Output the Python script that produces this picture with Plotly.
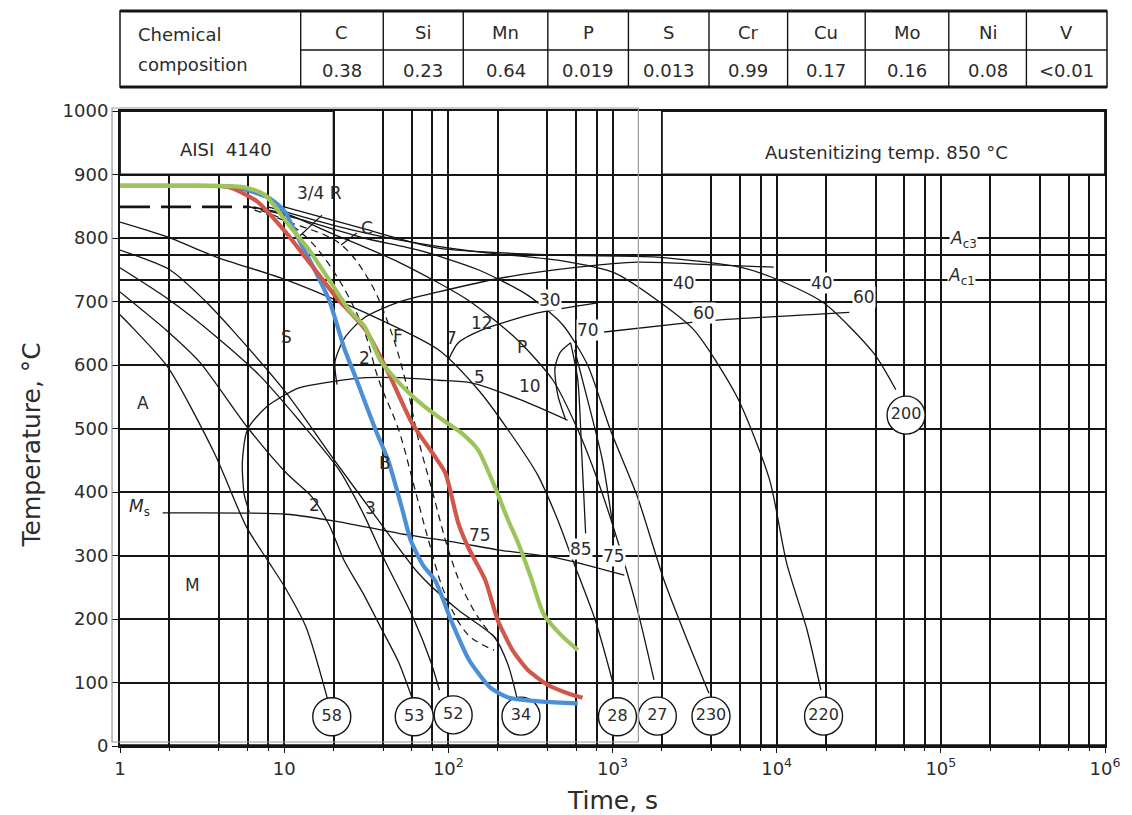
import numpy as np
import plotly.graph_objects as go

# ---------------- table data ----------------
elements = ["C", "Si", "Mn", "P", "S", "Cr", "Cu", "Mo", "Ni", "V"]
contents = ["0.38", "0.23", "0.64", "0.019", "0.013", "0.99", "0.17", "0.16", "0.08", "<0.01"]

# ---------------- axes ----------------
y_ticks = list(range(0, 1001, 100))
x_decades = [1, 10, 100, 1000, 10000, 100000, 1000000]
x_decade_text = ["1", "10", "10<sup>2</sup>", "10<sup>3</sup>", "10<sup>4</sup>", "10<sup>5</sup>", "10<sup>6</sup>"]
x_grid_mult = [2, 4, 6, 8]
crit_temps = [734, 773]          # Ac1, Ac3

# ---------------- coloured cooling curves ----------------
blue_t = [0.89, 2, 4, 5.3, 8.1, 10, 12.3, 15.2, 18.8, 23.4, 27.2, 36, 43, 52, 59, 70, 83, 105, 134, 182, 234, 376, 615]
blue_T = [882, 882, 882, 879, 863, 843, 797, 752, 702, 624, 581, 498, 450, 376, 324, 285, 261, 195, 135, 91, 76, 70, 67]
red_t = [0.89, 2, 4.6, 6.8, 10.3, 13.6, 16.3, 20.7, 31.4, 43.3, 59.9, 83.3, 95.9, 115, 132, 168, 200, 246, 304, 405, 533, 657]
red_T = [882, 882, 880, 858, 808, 768, 742, 707, 655, 587, 509, 455, 430, 351, 313, 261, 198, 151, 120, 96, 83, 76]
green_t = [0.89, 2, 5.7, 7.6, 10.7, 14.2, 18.8, 24.8, 31, 39, 55, 72, 93, 120, 152, 192, 231, 266, 318, 380, 485, 615]
green_T = [882, 882, 880, 868, 820, 781, 734, 687, 660, 605, 561, 534, 513, 493, 466, 408, 356, 320, 266, 208, 175, 151]

# ---------------- black cooling curves ----------------
cc58_t = [1.0, 1.2, 1.95, 3.76, 5.89, 7.9, 10.1, 13.6, 18.5]
cc58_T = [679, 658, 597, 461, 345, 293, 250, 187, 71]
cc53_t = [1.0, 1.93, 3.05, 5.97, 10.3, 14.8, 18.8, 23.1, 30.6, 38.7, 49.8, 59.9]
cc53_T = [715, 654, 605, 502, 430, 392, 348, 293, 238, 187, 132, 77]
cc52_t = [1.0, 2.01, 3.76, 7.05, 12.3, 21.6, 30.6, 40.9, 60.8, 77.6, 88.3]
cc52_T = [753, 702, 647, 584, 513, 435, 364, 293, 203, 135, 88]
cc34_t = [1.0, 2.01, 3.27, 4.84, 10.3, 19.6, 36.2, 65.8, 115, 190, 231, 261]
cc34_T = [781, 750, 702, 655, 556, 455, 361, 272, 214, 172, 128, 77]
cc28_t = [1.0, 1.93, 3.87, 10.3, 31.4, 87, 152, 231, 350, 464, 572, 786, 1000]
cc28_T = [825, 802, 770, 734, 682, 624, 561, 498, 427, 356, 293, 198, 102]
cc27_t = [6.1, 10.3, 18.8, 49.8, 132, 265, 434, 615, 811, 1072, 1420, 1790]
cc27_T = [849, 838, 809, 762, 702, 639, 576, 498, 419, 324, 214, 104]
cc230_t = [6.5, 12.3, 30.6, 65.8, 152, 304, 498, 705, 970, 1420, 2060, 2850, 3870]
cc230_T = [849, 830, 800, 781, 750, 710, 663, 600, 498, 392, 261, 167, 83]
cc220_t = [8, 20, 49.8, 152, 464, 1028, 1870, 3140, 5730, 9060, 11500, 15300, 18600]
cc220_T = [849, 820, 797, 778, 765, 745, 702, 655, 550, 419, 288, 183, 88]
cc200_t = [10, 30, 87, 464, 1870, 5980, 9590, 19300, 38900, 53200]
cc200_T = [849, 815, 784, 773, 770, 754, 737, 698, 619, 561]

# dashed bar curves (3/4 R and centre)
top_dash_t = [1.0, 6.13]
top_dash_T = [849, 849]
d34_t = [6.13, 9.32, 14.2, 21.6, 30.6, 37.7, 49.8, 61.6, 75.7, 95.9, 132, 190]
d34_T = [849, 832, 797, 734, 655, 576, 498, 411, 324, 238, 175, 151]
dc_t = [6.6, 10.7, 21.6, 32.8, 44.5, 55.6, 65.8, 81.1, 100, 123, 163, 200]
dc_T = [844, 825, 792, 734, 655, 569, 482, 395, 309, 246, 191, 167]

# ---------------- transformation lines ----------------
bs_t = [533, 277, 138, 87, 49.8, 31.4, 18.8, 12.3, 7.79, 5.97, 5.56, 5.72, 6.13]
bs_T = [513, 545, 572, 576, 580, 580, 573, 564, 534, 498, 446, 395, 369]
ms_t = [1.82, 10.3, 21.6, 49.8, 115, 200, 464, 1180]
ms_T = [367, 365, 353, 335, 320, 309, 296, 269]
fs_t = [21.0, 20.4, 23.4, 30.6, 49.8, 87, 210, 615, 1420, 3280, 9590]
fs_T = [569, 605, 643, 674, 699, 715, 737, 754, 762, 759, 754]
ps_t = [100, 115, 159, 350, 811]
ps_T = [608, 635, 655, 682, 698]
nose_t = [556, 480, 446, 464, 520]
nose_T = [635, 620, 595, 553, 513]
l85_t = [556, 615, 648, 686]
l85_T = [635, 576, 466, 335]
l75_t = [588, 705, 868, 1028]
l75_T = [624, 545, 450, 329]
p6070_t = [890, 2740, 4520, 27700]
p6070_T = [652, 666, 671, 683]
ptr34_t = [17.0, 12.3]
ptr34_T = [836, 802]
ptrc_t = [22.2, 27.7]
ptrc_T = [789, 808]

# ---------------- hardness circles ----------------
hard_vals = ["58", "53", "52", "34", "28", "27", "230", "220", "200"]
hard_t = [19.5, 62, 107, 277, 1072, 1875, 3980, 19300, 61400]
hard_T = [46, 46, 49, 47, 46, 47, 47, 47, 521]

# ---------------- labels ----------------
head_text = ["AISI \u00a04140", "Austenitizing temp. 850 \u00b0C"]
head_t = [4.45, 46400]
head_T = [939, 935]
plain_text = ["3/4 R", "C", "S", "F", "2", "7", "12", "P", "5", "10", "A", "B", "M",
              "<i>M</i><sub>s</sub>", "2", "3", "75"]
plain_t = [16.5, 31.8, 10.3, 49.1, 31, 104, 161, 281, 154, 314, 1.38, 40.9, 2.77, 1.32, 15.2, 33.7, 156]
plain_T = [871, 816, 644, 646, 611, 643, 666, 628, 581, 567, 540, 446, 254, 375, 380, 375, 332]
boxed_text = ["30", "70", "40", "60", "40", "60", "85", "75",
              "<i>A</i><sub>c3</sub>", "<i>A</i><sub>c1</sub>"]
boxed_t = [415, 705, 2730, 3610, 19000, 34100, 640, 1015, 137800, 134000]
boxed_T = [702, 655, 729, 682, 729, 707, 310, 299, 797, 739]

# ---------------- figure geometry ----------------
W, H = 1132, 815
ML, MR, MT, MB = 120, 22, 111, 69
PW, PH = W - ML - MR, H - MT - MB


def px_x(px):
    return (px - ML) / PW


def px_y(py):
    return (H - MB - py) / PH


INK = "#151515"
TXT = "#2b2b2b"
FONT = "DejaVu Sans, Arial, sans-serif"

# secondary grid positions (2, 4, 6, 8 x each decade)
x_minor = [m * d for d in x_decades[:-1] for m in x_grid_mult]

fig = go.Figure()

black = [(cc58_t, cc58_T), (cc53_t, cc53_T), (cc52_t, cc52_T), (cc34_t, cc34_T),
         (cc28_t, cc28_T), (cc27_t, cc27_T), (cc230_t, cc230_T), (cc220_t, cc220_T),
         (cc200_t, cc200_T), (bs_t, bs_T), (ms_t, ms_T), (fs_t, fs_T), (ps_t, ps_T),
         (nose_t, nose_T), (l85_t, l85_T), (l75_t, l75_T), (p6070_t, p6070_T)]
for t, T in black:
    fig.add_trace(go.Scatter(x=t, y=T, mode="lines", hoverinfo="skip",
                             line=dict(color=INK, width=1.3, shape="spline", smoothing=0.7)))

for t, T in [(ptr34_t, ptr34_T), (ptrc_t, ptrc_T)]:
    fig.add_trace(go.Scatter(x=t, y=T, mode="lines", hoverinfo="skip",
                             line=dict(color=INK, width=1.2)))

fig.add_trace(go.Scatter(x=top_dash_t, y=top_dash_T, mode="lines", hoverinfo="skip",
                         line=dict(color=INK, width=2.6, dash="30px,11px")))
for t, T in [(d34_t, d34_T), (dc_t, dc_T)]:
    fig.add_trace(go.Scatter(x=t, y=T, mode="lines", hoverinfo="skip",
                             line=dict(color=INK, width=1.2, dash="7px,5px", shape="spline")))

fig.add_trace(go.Scatter(x=hard_t, y=hard_T, mode="markers+text", text=hard_vals,
                         textposition="middle center", cliponaxis=False, hoverinfo="skip",
                         textfont=dict(family=FONT, size=16, color=TXT),
                         marker=dict(size=38, color="white", line=dict(color=INK, width=1.4))))

for t, T, c in [(blue_t, blue_T, "#4b8fd6"), (red_t, red_T, "#d0574a"), (green_t, green_T, "#9dc35b")]:
    fig.add_trace(go.Scatter(x=t, y=T, mode="lines", hoverinfo="skip", cliponaxis=False,
                             line=dict(color=c, width=4.2, shape="spline", smoothing=0.6)))

# invisible anchor trace for the overlaid minor-grid axis
fig.add_trace(go.Scatter(x=[1], y=[None], xaxis="x2", mode="lines", hoverinfo="skip"))

shapes = []
# header boxes in the 900-1000 band
shapes.append(dict(type="rect", xref="paper", yref="paper", x0=0, x1=np.log10(20) / 6, y0=0.9, y1=1.0,
                   fillcolor="white", line=dict(color=INK, width=1.8), layer="above"))
shapes.append(dict(type="rect", xref="paper", yref="paper", x0=np.log10(2000) / 6, x1=1, y0=0.9, y1=1.0,
                   fillcolor="white", line=dict(color=INK, width=1.8), layer="above"))
# thick bottom axis
shapes.append(dict(type="line", xref="paper", yref="paper", x0=0, x1=1, y0=0, y1=0,
                   line=dict(color=INK, width=3.5), layer="above"))
# thin grey overlay frame
shapes.append(dict(type="rect", xref="paper", yref="paper", x0=px_x(112), x1=px_x(641),
                   y0=px_y(742), y1=px_y(108), line=dict(color="#9a9a9a", width=1.2), layer="above"))

# table
tab_l, tab_r, tab_t, tab_m, tab_b = 120, 1112, 11, 50, 87
col_edges = [301.6, 384.6, 465, 550, 631, 712, 791, 869, 953, 1031, 1112]
shapes.append(dict(type="rect", xref="paper", yref="paper", x0=px_x(tab_l), x1=px_x(tab_r),
                   y0=px_y(tab_b), y1=px_y(tab_t), line=dict(color=INK, width=1.5)))
for yy in (tab_t, tab_b):
    shapes.append(dict(type="line", xref="paper", yref="paper", x0=px_x(tab_l), x1=px_x(tab_r),
                       y0=px_y(yy), y1=px_y(yy), line=dict(color=INK, width=3)))
shapes.append(dict(type="line", xref="paper", yref="paper", x0=px_x(col_edges[0]), x1=px_x(tab_r),
                   y0=px_y(tab_m), y1=px_y(tab_m), line=dict(color=INK, width=1.5)))
for xe in col_edges[:-1]:
    shapes.append(dict(type="line", xref="paper", yref="paper", x0=px_x(xe), x1=px_x(xe),
                       y0=px_y(tab_b), y1=px_y(tab_t), line=dict(color=INK, width=1.4)))

annotations = []
tfont = dict(family=FONT, size=18, color=TXT)
annotations.append(dict(xref="paper", yref="paper", x=px_x(136), y=px_y(35), text="Chemical",
                        showarrow=False, xanchor="left", yanchor="middle", font=tfont))
annotations.append(dict(xref="paper", yref="paper", x=px_x(136), y=px_y(64), text="composition",
                        showarrow=False, xanchor="left", yanchor="middle", font=tfont))
for i, (el, val) in enumerate(zip(elements, contents)):
    xc = px_x((col_edges[i] + col_edges[i + 1]) / 2)
    annotations.append(dict(xref="paper", yref="paper", x=xc, y=px_y(32), text=el, showarrow=False,
                            xanchor="center", yanchor="middle", font=tfont))
    annotations.append(dict(xref="paper", yref="paper", x=xc, y=px_y(70), text=val, showarrow=False,
                            xanchor="center", yanchor="middle", font=tfont))

for txt, t, T in zip(head_text, head_t, head_T):
    annotations.append(dict(x=np.log10(t), y=T, text=txt, showarrow=False,
                            xanchor="center", yanchor="middle",
                            font=dict(family=FONT, size=18, color=TXT)))
for txt, t, T in zip(plain_text, plain_t, plain_T):
    annotations.append(dict(x=np.log10(t), y=T, text=txt, showarrow=False,
                            xanchor="center", yanchor="middle",
                            font=dict(family=FONT, size=17, color=TXT)))
for txt, t, T in zip(boxed_text, boxed_t, boxed_T):
    annotations.append(dict(x=np.log10(t), y=T, text=txt, showarrow=False, bgcolor="white",
                            borderpad=0, xanchor="center", yanchor="middle",
                            font=dict(family=FONT, size=17, color=TXT)))

annotations.append(dict(xref="paper", yref="paper", x=px_x(31), y=px_y(445), text="Temperature, \u00b0C",
                        textangle=-90, showarrow=False, xanchor="center", yanchor="middle",
                        font=dict(family=FONT, size=25, color=TXT)))
annotations.append(dict(xref="paper", yref="paper", x=px_x(615), y=px_y(800), text="Time, s",
                        showarrow=False, xanchor="center", yanchor="middle",
                        font=dict(family=FONT, size=25, color=TXT)))

fig.update_layout(
    width=W, height=H, margin=dict(l=ML, r=MR, t=MT, b=MB),
    paper_bgcolor="white", plot_bgcolor="white", showlegend=False,
    shapes=shapes, annotations=annotations,
    xaxis=dict(type="log", range=[0, 6], tickmode="array", tickvals=x_decades, ticktext=x_decade_text,
               showgrid=True, gridcolor=INK, gridwidth=1.8, zeroline=False,
               ticks="outside", ticklen=5, tickcolor=INK, showline=True, mirror=True,
               linecolor=INK, linewidth=2, tickfont=dict(family=FONT, size=18, color=TXT)),
    xaxis2=dict(type="log", range=[0, 6], overlaying="x", side="bottom", tickmode="array",
                tickvals=x_minor, showticklabels=False, showgrid=True, gridcolor=INK, gridwidth=1.8,
                zeroline=False, ticks="outside", ticklen=4, tickcolor=INK, showline=False),
    yaxis=dict(range=[0, 1000], tickmode="array", tickvals=y_ticks, showgrid=True, gridcolor=INK,
               gridwidth=1.8, zeroline=False, ticks="outside", ticklen=6, tickcolor=INK,
               showline=True, mirror=True, linecolor=INK, linewidth=2,
               tickfont=dict(family=FONT, size=18, color=TXT),
               minor=dict(tickmode="array", tickvals=crit_temps, showgrid=True, gridcolor=INK,
                          gridwidth=1.8, ticks="")),
)

fig.write_html("out.html", config={"displayModeBar": False},
               post_script="document.body.style.margin='0px';document.body.style.overflow='hidden';")
